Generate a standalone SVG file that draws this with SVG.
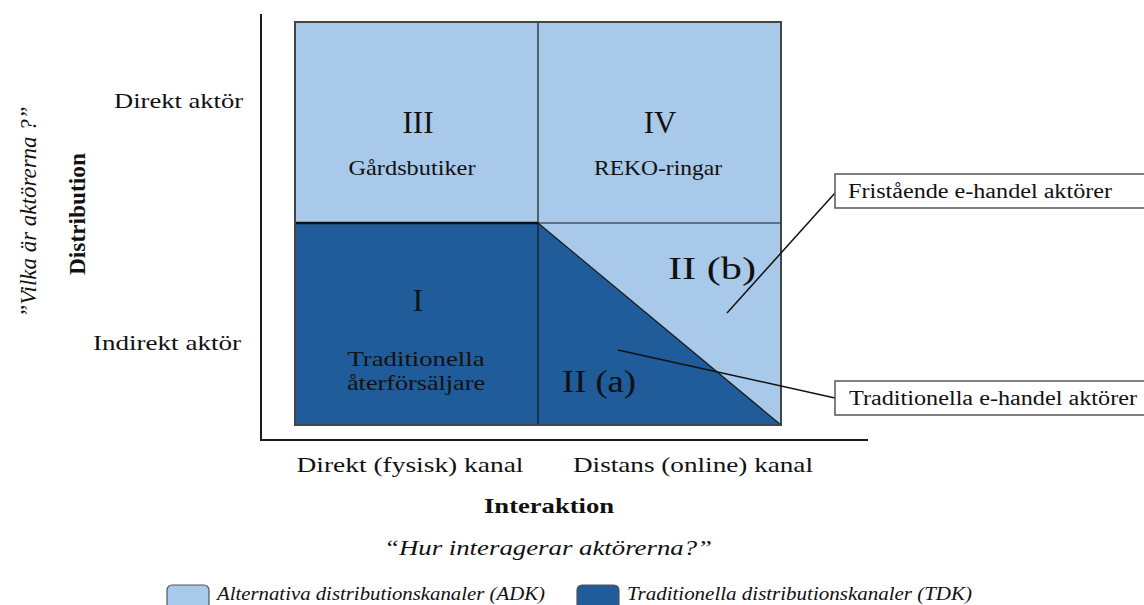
<svg xmlns="http://www.w3.org/2000/svg" width="1144" height="605" viewBox="0 0 1144 605">
<style>
.light{fill:#a8c9ea}
.dark{fill:#1f5c99}
.grid{stroke:#1a1a1a;stroke-width:1.2;fill:none}
.axis{stroke:#1a1a1a;stroke-width:2;fill:none}
.t{font-family:"Liberation Serif","Times New Roman",serif;fill:#111}
.it{font-style:italic}
.b{font-weight:bold}
.box{fill:#fff;stroke:#555;stroke-width:1.5}
.lead{stroke:#111;stroke-width:1.5;fill:none}
</style>
<g id="axes">
<line class="axis" x1="261" y1="14" x2="261" y2="440"/>
<line class="axis" x1="260" y1="440" x2="868" y2="440"/>
</g>
<g id="q3">
<rect class="light" x="295" y="22" width="243" height="201"/>
<text class="t" x="418" y="133" font-size="31" text-anchor="middle">III</text>
<text class="t" x="412" y="175" font-size="22" text-anchor="middle" textLength="127" lengthAdjust="spacingAndGlyphs">Gårdsbutiker</text>
</g>
<g id="q4">
<rect class="light" x="538" y="22" width="243" height="201"/>
<text class="t" x="660" y="133" font-size="31" text-anchor="middle">IV</text>
<text class="t" x="658" y="175" font-size="22" text-anchor="middle" textLength="128" lengthAdjust="spacingAndGlyphs">REKO-ringar</text>
</g>
<g id="q1">
<rect class="dark" x="295" y="223" width="243" height="202"/>
<text class="t" x="418" y="311" font-size="31" text-anchor="middle">I</text>
<text class="t" x="416" y="366" font-size="22" text-anchor="middle" textLength="137" lengthAdjust="spacingAndGlyphs">Traditionella</text>
<text class="t" x="416" y="390" font-size="22" text-anchor="middle" textLength="138" lengthAdjust="spacingAndGlyphs">återförsäljare</text>
</g>
<g id="q2b">
<polygon class="light" points="538,223 781,223 781,425"/>
<text class="t" x="712" y="279" font-size="31" text-anchor="middle" textLength="88" lengthAdjust="spacingAndGlyphs">II (b)</text>
</g>
<g id="q2a">
<polygon class="dark" points="538,223 781,425 538,425"/>
<text class="t" x="599" y="392" font-size="31" text-anchor="middle" textLength="74" lengthAdjust="spacingAndGlyphs">II (a)</text>
</g>
<g id="gridlines">
<line class="grid" x1="538" y1="22" x2="538" y2="425"/>
<line class="grid" x1="538" y1="223" x2="781" y2="223"/>
<line x1="295" y1="223" x2="538" y2="223" stroke="#111" stroke-width="2.5"/>
<line class="grid" x1="538" y1="223" x2="781" y2="425"/>
<rect x="295" y="22" width="486" height="403" fill="none" stroke="#444" stroke-width="2"/>
</g>
<g id="connectors">
<line class="lead" x1="727" y1="313" x2="835" y2="193"/>
<line class="lead" x1="618" y1="350" x2="835" y2="398"/>
</g>
<g id="callout-fristaende">
<rect class="box" x="835" y="174" width="312" height="34"/>
<text class="t" x="848" y="198" font-size="20" textLength="264" lengthAdjust="spacingAndGlyphs">Fristående e-handel aktörer</text>
</g>
<g id="callout-traditionella">
<rect class="box" x="835" y="381" width="312" height="34"/>
<text class="t" x="849" y="405" font-size="20" textLength="288" lengthAdjust="spacingAndGlyphs">Traditionella e-handel aktörer</text>
</g>
<g id="y-labels">
<text class="t" x="243" y="108" font-size="22" text-anchor="end" textLength="129" lengthAdjust="spacingAndGlyphs">Direkt aktör</text>
<text class="t" x="241" y="350" font-size="22" text-anchor="end" textLength="148" lengthAdjust="spacingAndGlyphs">Indirekt aktör</text>
<text class="t b" transform="translate(85,214) rotate(-90)" font-size="23" text-anchor="middle" textLength="122" lengthAdjust="spacingAndGlyphs">Distribution</text>
<text class="t it" transform="translate(36,212) rotate(-90)" font-size="24" text-anchor="middle" textLength="211" lengthAdjust="spacingAndGlyphs">”Vilka är aktörerna ?”</text>
</g>
<g id="x-labels">
<text class="t" x="410" y="472" font-size="22" text-anchor="middle" textLength="227" lengthAdjust="spacingAndGlyphs">Direkt (fysisk) kanal</text>
<text class="t" x="693" y="472" font-size="22" text-anchor="middle" textLength="240" lengthAdjust="spacingAndGlyphs">Distans (online) kanal</text>
<text class="t b" x="549" y="513" font-size="22" text-anchor="middle" textLength="130" lengthAdjust="spacingAndGlyphs">Interaktion</text>
<text class="t it" x="548" y="555" font-size="22" text-anchor="middle" textLength="328" lengthAdjust="spacingAndGlyphs">“Hur interagerar aktörerna?”</text>
</g>
<g id="legend">
<rect x="167" y="585" width="42" height="28" rx="5" fill="#a8c9ea" stroke="#555" stroke-width="1.2"/>
<text class="t it" x="217" y="600" font-size="19" textLength="328" lengthAdjust="spacingAndGlyphs">Alternativa distributionskanaler (ADK)</text>
<rect x="577" y="585" width="42" height="28" rx="5" fill="#1f5c99" stroke="#555" stroke-width="1.2"/>
<text class="t it" x="627" y="600" font-size="19" textLength="345" lengthAdjust="spacingAndGlyphs">Traditionella distributionskanaler (TDK)</text>
</g>
</svg>
